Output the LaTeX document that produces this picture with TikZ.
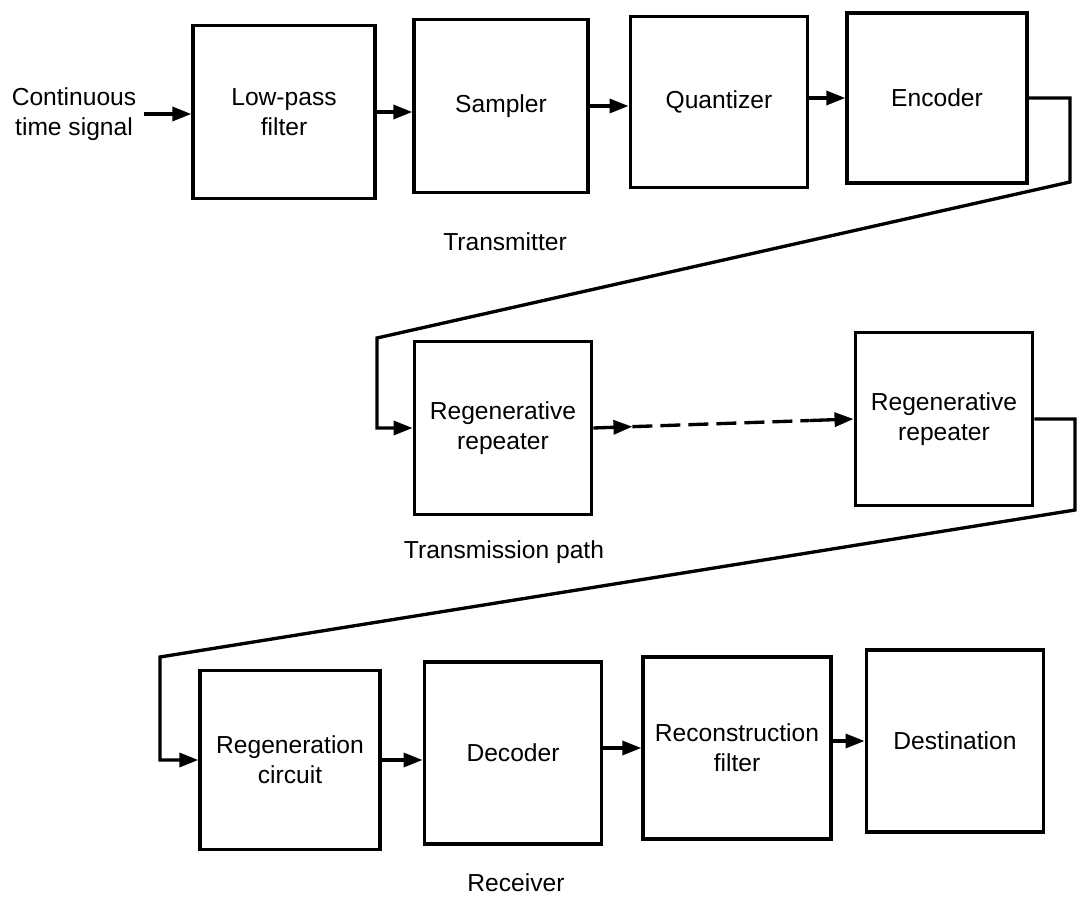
\documentclass[tikz,border=0pt]{standalone}
\usepackage{fontspec}
\setmainfont{Liberation Sans}
\usepackage{tikz}
\usetikzlibrary{arrows.meta}
\usetikzlibrary{calc, positioning}

\begin{document}
\begin{tikzpicture}[x=0.2mm, y=-0.2mm, line width=1.9pt,
	blk/.style={draw, minimum width=35.5mm, minimum height=34.6mm, inner sep=1pt,
		align=center, font=\fontsize{14}{17}\selectfont},
	lbl/.style={align=center, font=\fontsize{14}{17}\selectfont},
	arr/.style={-{Triangle[length=3.8mm,width=2.8mm]}}]
	\useasboundingbox (0,0) rectangle (1079,899);
	% transmitter
	\node[blk, minimum width=36.4mm] (0) at (284,112) {Low-pass\\filter};
	\node[blk, minimum width=34.8mm] (1) at (501,106) {Sampler};
	\node[blk, minimum height=34.2mm] (2) at (719,102) {Quantizer};
	\node[blk, minimum width=36mm, minimum height=34mm] (3) at (937,98) {Encoder};
	% transmission path
	\node[blk] (4) at (503,428) {Regenerative\\repeater};
	\node[blk] (5) at (944,419) {Regenerative\\repeater};
	% receiver
	\node[blk, minimum width=36mm, minimum height=35.8mm] (6) at (290,760) {Regeneration\\circuit};
	\node[blk, minimum height=36.4mm] (7) at (513,753) {Decoder};
	\node[blk, minimum width=37.6mm, minimum height=36.4mm] (8) at (737,748) {Reconstruction\\filter};
	\node[blk, minimum height=36.4mm] (9) at (955,741) {Destination};
	\node[lbl] (src) at (74,114) {Continuous\\time signal};
	\node[lbl] (t) at (505,242) {Transmitter};
	\node[lbl] (p) at (504,552) {Transmission path};
	\node[lbl] (r) at (516,883) {Receiver};
	\coordinate (a) at (1070,182);
	\coordinate (b) at (377,338);
	\coordinate (c) at (1075,510);
	\coordinate (d) at (160,657);
	\draw[arr] (src.east) to (src.east -| 0.west);
	\draw[arr] (0.east) to (0.east -| 1.west);
	\draw[arr] (1.east) to (1.east -| 2.west);
	\draw[arr] (2.east |- 3.west) to (3.west);
	\draw[arr] (3.east) -| (a) -- (b) |- (4.west);
	\draw[arr] (4.east) to ($(4.east)!0.15!(5.west)$);
	\draw[dash pattern=on 4mm off 1.6mm] ($(4.east)!0.15!(5.west)$) to ($(4.east)!0.83!(5.west)$);
	\draw[arr] ($(4.east)!0.83!(5.west)$) to (5.west);
	\draw[arr] (5.east) -| (c) -- (d) |- (6.west);
	\draw[arr] (6.east) to (6.east -| 7.west);
	\draw[arr] (7.east |- 8.west) to (8.west);
	\draw[arr] (8.east |- 9.west) to (9.west);
\end{tikzpicture}
\end{document}
